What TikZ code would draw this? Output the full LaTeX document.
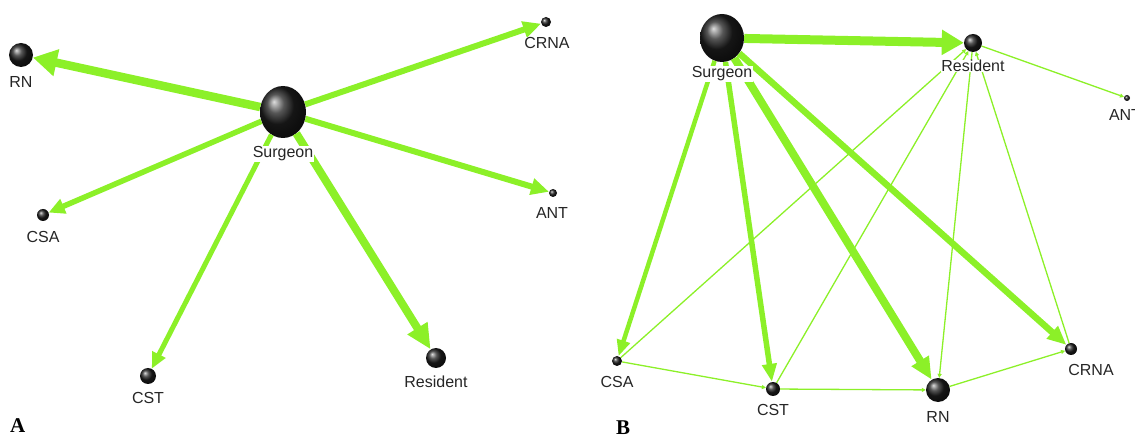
\documentclass[tikz,border=0pt]{standalone}
\usepackage{fontspec}
\setmainfont{Liberation Sans}
\newfontfamily\serifbold{Liberation Serif}
\usetikzlibrary{arrows.meta,shapes.geometric}
\definecolor{lime}{RGB}{140,240,40}
\tikzset{
  nd/.style={circle, inner sep=0pt, minimum size=#1, shading=ball, ball color=black!88},
  bignd/.style={ellipse, inner sep=0pt, minimum width=46pt, minimum height=52pt, shading=ball, ball color=black!88},
  lab/.style={font=\fontsize{16}{19}\selectfont, inner sep=0.6pt, fill=white, text=black!85},
  edge/.style n args={3}{draw=lime, line width=#1, -{Triangle[length=#2, width=#3]}},
  thin/.style={draw=lime, line width=1.3pt, -{Triangle[length=4pt, width=4pt]}},
  panel/.style={font=\serifbold\bfseries\fontsize{21}{24}\selectfont, inner sep=0pt}
}
\begin{document}
\begin{tikzpicture}[x=1pt,y=-1pt]
\useasboundingbox (0,0) rectangle (1135,435);
\clip (0,0) rectangle (1135,435);
% ---------- Panel A ----------
\node[bignd] (aS) at (283,112) {};
\node[nd=24pt] (aRN) at (21,55) {};
\node[nd=10pt] (aCRNA) at (546,22) {};
\node[nd=8pt] (aANT) at (553,193) {};
\node[nd=20pt] (aRes) at (436,358) {};
\node[nd=12pt] (aCSA) at (43,215) {};
\node[nd=16pt] (aCST) at (148,376) {};
\draw[edge={8.5pt}{24pt}{26pt}] (aS) -- (aRN);
\draw[edge={6pt}{18pt}{16pt}] (aS) -- (aCRNA);
\draw[edge={6pt}{18pt}{16pt}] (aS) -- (aANT);
\draw[edge={5.5pt}{16pt}{15pt}] (aS) -- (aCSA);
\draw[edge={5pt}{16pt}{14pt}] (aS) -- (aCST);
\draw[edge={8pt}{25pt}{22pt}] (aS) -- (aRes);
\node[lab] (aSL) at (283,154) {Surgeon};
\node[lab] (aRNL) at (21,82) {RN};
\node[lab] (aCRNAL) at (547,43) {CRNA};
\node[lab] (aANTL) at (552,213) {ANT};
\node[lab] (aResL) at (436,382) {Resident};
\node[lab] (aCSAL) at (43,237) {CSA};
\node[lab] (aCSTL) at (148,398) {CST};
\node[panel, anchor=base west] (aTag) at (10,432) {A};
% ---------- Panel B ----------
\node[bignd, minimum width=44pt, minimum height=48pt] (bS) at (722,38) {};
\node[nd=18pt] (bRes) at (973,43) {};
\node[nd=6pt] (bANT) at (1127,98) {};
\node[nd=10pt] (bCSA) at (617,361) {};
\node[nd=14pt] (bCST) at (773,389) {};
\node[nd=24pt] (bRN) at (938,390) {};
\node[nd=12pt] (bCRNA) at (1071,349) {};
% thin connectors
\draw[thin] (bRes) -- (bANT);
\draw[thin] (bCSA) -- (bRes);
\draw[thin] (bCST) -- (bRes);
\draw[thin] (bRes) -- (bRN);
\draw[thin] (bCRNA) -- (bRes);
\draw[thin] (bCSA) -- (bCST);
\draw[thin] (bCST) -- (bRN);
\draw[thin] (bRN) -- (bCRNA);
% thick connectors
\draw[edge={9pt}{22pt}{24pt}] (bS) -- (bRes);
\draw[edge={4.5pt}{16pt}{13pt}] (bS) -- (bCSA);
\draw[edge={5.5pt}{18pt}{14pt}] (bS) -- (bCST);
\draw[edge={8pt}{22pt}{19pt}] (bS) -- (bRN);
\draw[edge={6.5pt}{19pt}{16pt}] (bS) -- (bCRNA);
\node[lab] (bSL) at (722,74) {Surgeon};
\node[lab] (bResL) at (973,66) {Resident};
\node[lab] (bANTL) at (1125,115) {ANT};
\node[lab] (bCSAL) at (617,382) {CSA};
\node[lab] (bCSTL) at (773,410) {CST};
\node[lab] (bRNL) at (938,417) {RN};
\node[lab] (bCRNAL) at (1091,370) {CRNA};
\node[panel, anchor=base west] (bTag) at (616,434) {B};
\end{tikzpicture}
\end{document}
